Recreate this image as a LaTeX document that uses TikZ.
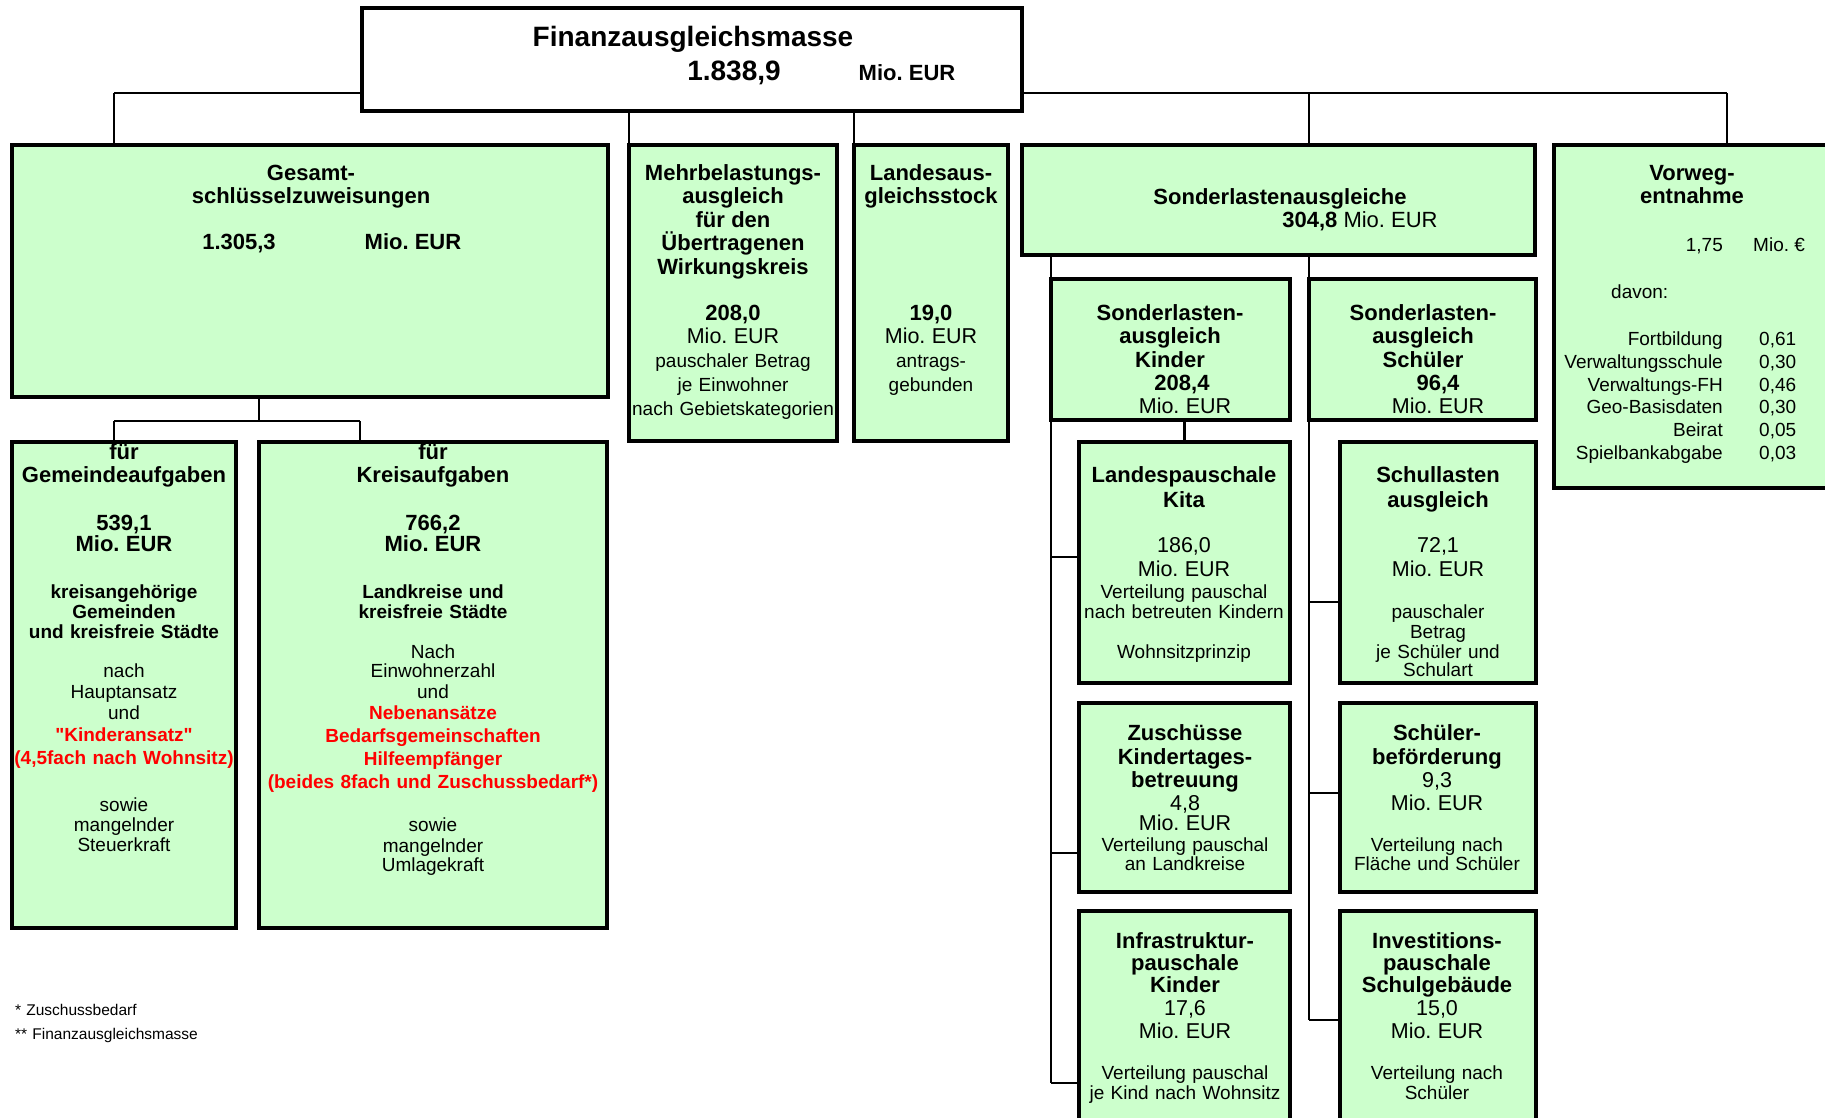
\documentclass[tikz,border=0pt]{standalone}
\usepackage{fontspec}
\setmainfont{Liberation Sans}
\usetikzlibrary{backgrounds}
\definecolor{boxgreen}{RGB}{204,255,204}
\frenchspacing
\newcommand\fhead{\fontsize{22}{\baselineskip}\selectfont\bfseries}
\newcommand\fsub{\fontsize{19}{\baselineskip}\selectfont\bfseries}
\newcommand\fval{\fontsize{21.5}{\baselineskip}\selectfont\mdseries}
\newcommand\fsmall{\fontsize{19}{\baselineskip}\selectfont\mdseries}
\begin{document}
\begin{tikzpicture}[x=1pt, y=-1pt,
    box/.style={draw, line width=3.3pt, fill=boxgreen, inner sep=0pt, outer sep=0pt, anchor=north west},
    txt/.style={anchor=base, align=center, inner sep=0pt, text width=#1, font={\lineskiplimit=-100pt\fontsize{19}{21}\selectfont}},
    lead/.style={font={\lineskiplimit=-100pt\fontsize{19}{#1}\selectfont}},
    lbl/.style={anchor=base, inner sep=0pt},
    conn/.style={line width=1.8pt},
    branch/.style={line width=2.2pt}]
    \useasboundingbox (0,0) rectangle (1825,1118);

    % Finanzausgleichsmasse
    \node[box, fill=white, minimum width=660, minimum height=103] (fam) at (362,8) {};
    \node[lbl, font={\fontsize{28}{30}\selectfont\bfseries}] (famt) at (693,47) {Finanzausgleichsmasse};
    \node[lbl, font={\fontsize{28}{30}\selectfont\bfseries}] (famv) at (734,81) {1.838,9};
    \node[lbl, font={\fontsize{22}{24}\selectfont\bfseries}] (fame) at (907,81) {Mio. EUR};

    % Gesamtschluesselzuweisungen
    \node[box, minimum width=596, minimum height=252] (gsz) at (12,145) {};
    \node[txt=500, lead=23.5] (gszt) at (311,180.5) {\fhead Gesamt-\\ schlüsselzuweisungen};
    \node[lbl, font={\fontsize{22}{24}\selectfont\bfseries}] (gszv) at (239,249.5) {1.305,3};
    \node[lbl, font={\fontsize{22}{24}\selectfont\bfseries}] (gsze) at (413,249.5) {Mio. EUR};

    % Gemeindeaufgaben
    \node[box, minimum width=224, minimum height=486] (gmd) at (12,442) {};
    \node[txt=226, lead=21] (gmdt) at (124,459.5) {\fhead für\\[2pt] Gemeindeaufgaben\\[27pt] 539,1\\ Mio. EUR\\[26pt]
        \fsub kreisangehörige\\[-1pt] Gemeinden\\[-1pt] und kreisfreie Städte\\[18pt]
        \fsmall nach\\ Hauptansatz\\ und\\[1pt]
        \fsub\textcolor{red}{\textquotedbl Kinderansatz\textquotedbl}\\[2pt] \textcolor{red}{(4,5fach nach Wohnsitz)}\\[26pt]
        \fsmall sowie\\[-1pt] mangelnder\\[-1pt] Steuerkraft};

    % Kreisaufgaben
    \node[box, minimum width=348, minimum height=486] (krs) at (259,442) {};
    \node[txt=350, lead=21] (krst) at (433,459.5) {\fhead für\\[2pt] Kreisaufgaben\\[27pt] 766,2\\ Mio. EUR\\[26pt]
        \fsub Landkreise und\\[-1pt] kreisfreie Städte\\[19pt]
        \fsmall Nach\\[-2pt] Einwohnerzahl\\ und\\
        \fsub\textcolor{red}{Nebenansätze}\\[2pt] \textcolor{red}{Bedarfsgemeinschaften}\\[2pt]
        \textcolor{red}{Hilfeempfänger}\\[2pt] \textcolor{red}{(beides 8fach und Zuschussbedarf*)}\\[22pt]
        \fsmall sowie\\ mangelnder\\[-2pt] Umlagekraft};

    % Mehrbelastungsausgleich
    \node[box, minimum width=208, minimum height=296] (mba) at (629,145) {};
    \node[txt=210, lead=23.5] (mbat) at (733,180.5) {\fhead Mehrbelastungs-\\ ausgleich\\ für den\\ Übertragenen\\ Wirkungskreis\\[22.5pt]
        208,0\\ \fval Mio. EUR\\ \fsmall pauschaler Betrag\\ je Einwohner\\[1pt] nach Gebietskategorien};

    % Landesausgleichsstock
    \node[box, minimum width=154, minimum height=296] (lak) at (854,145) {};
    \node[txt=156, lead=23.5] (lakt) at (931,180.5) {\fhead Landesaus-\\ gleichsstock\\[93pt]
        19,0\\ \fval Mio. EUR\\ \fsmall antrags-\\ gebunden};

    % Sonderlastenausgleiche
    \node[box, minimum width=513, minimum height=110] (sla) at (1022,145) {};
    \node[lbl, font={\fontsize{22}{24}\selectfont\bfseries}] (slat) at (1280,204.5) {Sonderlastenausgleiche};
    \node[lbl, font={\fontsize{22}{24}\selectfont}] (slav) at (1360,227.5) {\textbf{304,8} Mio. EUR};

    % Vorwegentnahme
    \node[box, minimum width=286, minimum height=343] (vwe) at (1554,145) {};
    \node[txt=200, lead=23.5] (vwet) at (1692,180.5) {\fhead Vorweg-\\ entnahme};
    \node[lbl, anchor=base east, font={\fontsize{19}{21}\selectfont}] (vwev) at (1723,251.5) {1,75};
    \node[lbl, anchor=base west, font={\fontsize{19}{21}\selectfont}] (vwee) at (1753,251.5) {Mio. €};
    \node[lbl, anchor=base west, font={\fontsize{19}{21}\selectfont}] (vwed) at (1611,298.5) {davon:};
    \node[anchor=base east, align=right, inner sep=0pt, text width=200, lead=22.8] (vwel) at (1723,345.5)
        {Fortbildung\\ Verwaltungsschule\\ Verwaltungs-FH\\ Geo-Basisdaten\\ Beirat\\ Spielbankabgabe};
    \node[anchor=base west, align=left, inner sep=0pt, text width=60, lead=22.8] (vwez) at (1759,345.5)
        {0,61\\ 0,30\\ 0,46\\ 0,30\\ 0,05\\ 0,03};

    % Sonderlastenausgleich Kinder
    \node[box, minimum width=239, minimum height=141] (slk) at (1051,279) {};
    \node[txt=240, lead=23.3] (slkt) at (1170,320.5) {\fhead Sonderlasten-\\ ausgleich\\ Kinder\\
        \hspace*{24pt}208,4\\ \fval\hspace*{30pt}Mio. EUR};

    % Sonderlastenausgleich Schueler
    \node[box, minimum width=227, minimum height=141] (sls) at (1309,279) {};
    \node[txt=228, lead=23.3] (slst) at (1423,320.5) {\fhead Sonderlasten-\\ ausgleich\\ Schüler\\
        \hspace*{30pt}96,4\\ \fval\hspace*{30pt}Mio. EUR};

    % Landespauschale Kita
    \node[box, minimum width=211, minimum height=241] (lpk) at (1079,442) {};
    \node[txt=212, lead=22] (lpkt) at (1184,482.5) {\fhead Landespauschale\\[3pt] Kita\\[23pt]
        \fval 186,0\\[2pt] Mio. EUR\\ \fsmall Verteilung pauschal\\[-2pt] nach betreuten Kindern\\[18pt] Wohnsitzprinzip};

    % Schullastenausgleich
    \node[box, minimum width=196, minimum height=241] (slg) at (1340,442) {};
    \node[txt=198, lead=22] (slgt) at (1438,482.5) {\fhead Schullasten\\[3pt] ausgleich\\[23pt]
        \fval 72,1\\[2pt] Mio. EUR\\[20pt] \fsmall pauschaler\\[-2pt] Betrag\\[-2pt] je Schüler und\\[-4pt] Schulart};

    % Zuschuesse Kindertagesbetreuung
    \node[box, minimum width=211, minimum height=189] (zkt) at (1079,703) {};
    \node[txt=212, lead=22] (zktt) at (1185,740.5) {\fhead Zuschüsse\\[2pt] Kindertages-\\[1pt] betreuung\\[1pt]
        \fval 4,8\\[-2pt] Mio. EUR\\[-1pt] \fsmall Verteilung pauschal\\[-3pt] an Landkreise};

    % Schuelerbefoerderung
    \node[box, minimum width=196, minimum height=189] (sbf) at (1340,703) {};
    \node[txt=198, lead=22] (sbft) at (1437,740.5) {\fhead Schüler-\\[2pt] beförderung\\[1pt]
        \fval 9,3\\[1pt] Mio. EUR\\[19pt] \fsmall Verteilung nach\\[-3pt] Fläche und Schüler};

    % Infrastrukturpauschale Kinder
    \node[box, minimum width=211, minimum height=229] (ipk) at (1079,911) {};
    \node[txt=212, lead=22] (ipkt) at (1185,948.5) {\fhead Infrastruktur-\\ pauschale\\ Kinder\\[1pt]
        \fval 17,6\\[1pt] Mio. EUR\\[19pt] \fsmall Verteilung pauschal\\[-2pt] je Kind nach Wohnsitz};

    % Investitionspauschale Schulgebaeude
    \node[box, minimum width=196, minimum height=229] (ips) at (1340,911) {};
    \node[txt=198, lead=22] (ipst) at (1437,948.5) {\fhead Investitions-\\ pauschale\\ Schulgebäude\\[1pt]
        \fval 15,0\\[1pt] Mio. EUR\\[19pt] \fsmall Verteilung nach\\[-2pt] Schüler};

    % Fussnoten
    \node[anchor=base west, align=left, inner sep=0pt, text width=300, font={\fontsize{15.5}{24}\selectfont}] (fn) at (15,1015)
        {* Zuschussbedarf\\[0pt] ** Finanzausgleichsmasse};

    % Verbindungen
    \coordinate (busL) at (114,93);
    \coordinate (busR) at (1727,93);
    \coordinate (gjl) at (114,421);
    \coordinate (gjr) at (360,421);
    \coordinate (gjm) at (259,421);
    \coordinate (k1) at (1051,557);
    \coordinate (k2) at (1051,853);
    \coordinate (k3) at (1051,1083);
    \coordinate (s1) at (1309,602);
    \coordinate (s2) at (1309,793);
    \coordinate (s3) at (1309,1020);
    \begin{scope}[on background layer]
        \draw[conn] (busL) -- (fam.west |- busL);
        \draw[conn] (fam.east |- busR) -- (busR);
        \draw[conn] (busL) -- (busL |- gsz.north);
        \draw[conn] (busR) -- (busR |- vwe.north);
        \draw[conn] (mba.north west) -- (mba.north west |- fam.south);
        \draw[conn] (lak.north west) -- (lak.north west |- fam.south);
        \draw[conn] (sls.north west |- busR) -- (sls.north west |- sla.north);

        \draw[conn] (gjm |- gsz.south) -- (gjm);
        \draw[conn] (gjl) -- (gjr);
        \draw[conn] (gjl) -- (gjl |- gmd.north);
        \draw[conn] (gjr) -- (gjr |- krs.north);

        \draw[conn] (slk.north west |- sla.south) -- (k3);
        \draw[branch] (k1) -- (k1 -| lpk.west);
        \draw[branch] (k2) -- (k2 -| zkt.west);
        \draw[branch] (k3) -- (k3 -| ipk.west);
        \draw[branch] (lpk.north) -- (lpk.north |- slk.south);
        \draw[conn] (sls.north west |- sla.south) -- (s3);
        \draw[branch] (s1) -- (s1 -| slg.west);
        \draw[branch] (s2) -- (s2 -| sbf.west);
        \draw[branch] (s3) -- (s3 -| ips.west);
    \end{scope}
\end{tikzpicture}
\end{document}
